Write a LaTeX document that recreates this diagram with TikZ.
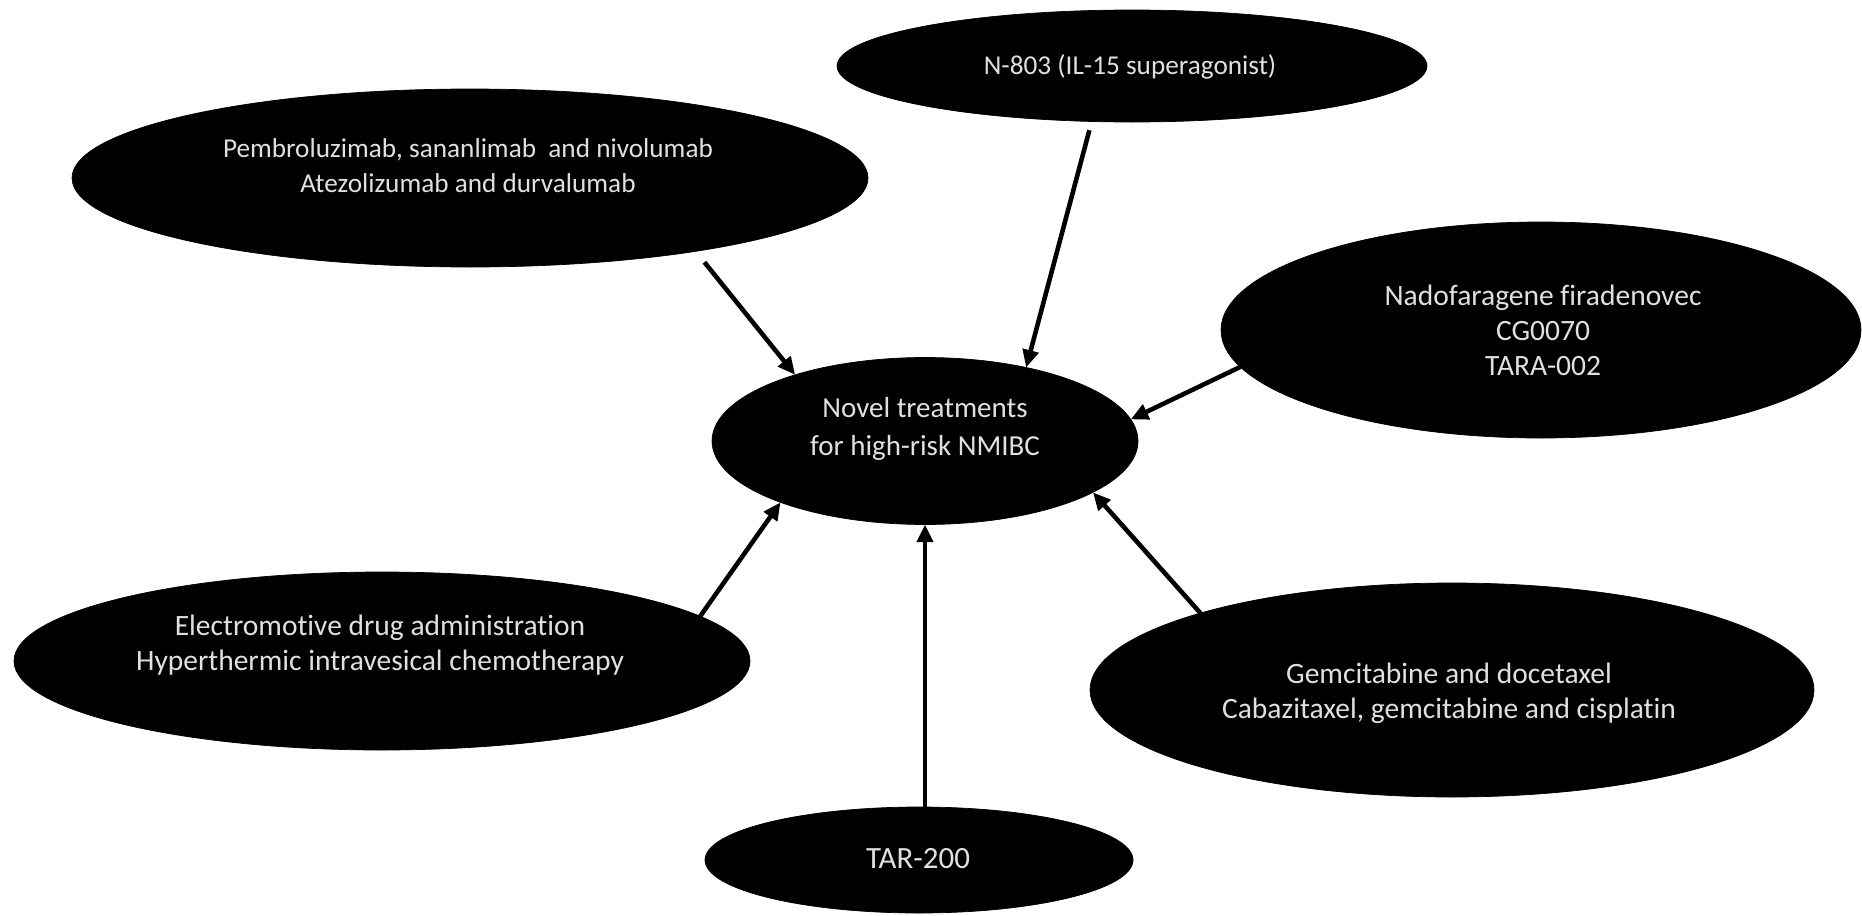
\documentclass[tikz,border=0pt]{standalone}
\usepackage{fontspec}
\setmainfont{Carlito}[Ligatures=NoCommon]
\usetikzlibrary{shapes.geometric,arrows.meta}
\begin{document}
\begin{tikzpicture}[
    bubble/.style={
        ellipse,
        draw=black,
        fill=black,
        inner sep=0pt,
        outer sep=0pt
    },
    txt/.style={
        text=white!88!black,
        align=center,
        font=\fontsize{15.5}{20}\selectfont
    },
    bigtxt/.style={
        txt,
        font=\fontsize{16.8}{20}\selectfont
    },
    hubtxt/.style={
        txt,
        font=\fontsize{16.5}{21.6}\selectfont
    },
    link/.style={
        -{Triangle[length=10pt,width=9pt]},
        line width=2.6pt,
        black
    }
]

\useasboundingbox (0,0) rectangle (37.24,-18.30);

%--- Central node ---
\node[bubble, minimum width=8.52cm, minimum height=3.34cm]
    (novel) at (18.50, -8.82) {};
\node[hubtxt] (novel-txt) at (18.50, -8.58)
    {Novel treatments\\for high-risk NMIBC};

%--- 1. Checkpoint inhibitors ---
\node[bubble, minimum width=15.92cm, minimum height=3.56cm]
    (pembro) at (9.40, -3.56) {};
\node[txt] (pembro-txt) at (9.36, -3.32)
    {Pembroluzimab, sananlimab\ \ and nivolumab\\Atezolizumab and durvalumab};

%--- 2. IL-15 ---
\node[bubble, minimum width=11.8cm, minimum height=2.24cm]
    (n803) at (22.64, -1.32) {};
\node[txt] (n803-txt) at (22.60, -1.34) {N-803 (IL-15 superagonist)};

%--- 3. Gene therapy ---
\node[bubble, minimum width=12.8cm, minimum height=4.32cm]
    (nado) at (30.82, -6.60) {};
\node[bigtxt] (nado-txt) at (30.86, -6.60)
    {Nadofaragene firadenovec\\CG0070\\TARA-002};

%--- 4. Device-assisted ---
\node[bubble, minimum width=14.72cm, minimum height=3.56cm]
    (emda) at (7.64, -13.22) {};
\node[bigtxt] (emda-txt) at (7.60, -12.90)
    {Electromotive drug administration\\Hyperthermic intravesical chemotherapy};

%--- 5. Combination chemotherapy ---
\node[bubble, minimum width=14.48cm, minimum height=4.28cm]
    (gem) at (29.04, -13.80) {};
\node[bigtxt] (gem-txt) at (28.98, -13.86)
    {Gemcitabine and docetaxel\\Cabazitaxel, gemcitabine and cisplatin};

%--- 6. Drug-releasing system ---
\node[bubble, minimum width=8.56cm, minimum height=2.12cm]
    (tar) at (18.38, -17.20) {};
\node[txt, font=\fontsize{17.6}{20}\selectfont] (tar-txt) at (18.36, -17.18) {TAR-200};

%--- Arrows into the centre ---
\draw[link, shorten <=0.28cm] (pembro.-18.2) -- (novel.153.3);
\draw[link, shorten <=0.18cm] (n803.-126.3) -- (novel.36.7);
\draw[link] (nado.-173.5) -- (novel.6.25);
\draw[link] (emda.8.3) -- (novel.-157.8);
\draw[link] (tar.north -| novel.south) -- (novel.south);
\draw[link] (gem.163.7) -- (novel.-17.1);

\end{tikzpicture}
\end{document}
